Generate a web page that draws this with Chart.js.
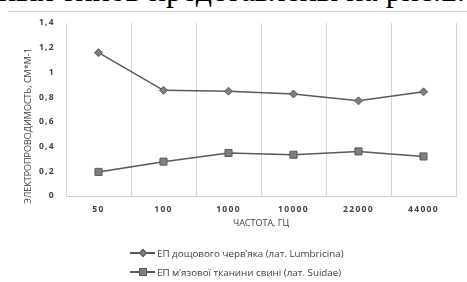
<!DOCTYPE html>
<html>
<head>
<meta charset="utf-8">
<script src="https://cdn.jsdelivr.net/npm/chart.js@4/dist/chart.umd.min.js"></script>
<style>
  html, body { margin: 0; padding: 0; background: #fff; }
  #wrap { position: relative; width: 467px; height: 282px; overflow: hidden; }
  #c { position: absolute; left: 0; top: 0; }
  #toptext { position: absolute; right: 2px; top: -26px; font-family: "Liberation Serif", serif; font-size: 32px; line-height: 33px; color: #000; white-space: nowrap; }
  #rule { position: absolute; left: 8px; right: 0; top: 11px; height: 1px; background: #cfcfcf; }
  .leg { position: absolute; left: 130px; height: 14px; display: flex; align-items: center; font-family: "Open Sans", sans-serif; font-size: 9.8px; color: #404040; white-space: nowrap; }
  .ico { position: relative; width: 25px; height: 14px; margin-right: 2px; }
  .ico .ln { position: absolute; left: 0; right: 0; top: 6px; height: 1.5px; background: #595959; }
  .ico .dm { position: absolute; left: 10px; top: 4px; width: 4px; height: 4px; background: #7f7f7f; border: 0.5px solid #595959; transform: rotate(45deg); }
  .ico .sq { position: absolute; left: 9px; top: 3px; width: 6px; height: 6px; background: #7f7f7f; border: 0.5px solid #595959; }
</style>
</head>
<body>
<div id="wrap">
  <div id="toptext">различных типов представлены на рис.2.</div>
  <div id="rule"></div>
  <canvas id="c" width="467" height="282"></canvas>
  <div class="leg" style="top:246px"><div class="ico"><div class="ln"></div><div class="dm"></div></div><span id="l1"></span></div>
  <div class="leg" style="top:265px"><div class="ico"><div class="ln"></div><div class="sq"></div></div><span id="l2"></span></div>
</div>
<script>
const categories = ['50', '100', '1000', '10000', '22000', '44000'];
const wormValues = [1.16, 0.855, 0.848, 0.825, 0.77, 0.843];
const pigValues = [0.195, 0.278, 0.348, 0.334, 0.361, 0.32];
const seriesNames = ['ЕП дощового черв’яка (лат. Lumbricina)', 'ЕП м’язової тканини свині (лат. Suidae)'];
const yTitle = 'ЭЛЕКТРОПРОВОДИМОСТЬ, СМ*М-1';
const xTitle = 'ЧАСТОТА, ГЦ';

document.getElementById('l1').textContent = seriesNames[0];
document.getElementById('l2').textContent = seriesNames[1];

const spacingPlugin = {
  id: 'spacing',
  beforeDraw(chart) { chart.ctx.letterSpacing = '1.3px'; },
  afterDraw(chart) {
    const ctx = chart.ctx;
    ctx.save();
    ctx.letterSpacing = '0px';
    ctx.fillStyle = '#404040';
    ctx.font = '9px "Open Sans"';
    ctx.textAlign = 'center';
    ctx.textBaseline = 'middle';
    ctx.translate(28, 126);
    ctx.rotate(-Math.PI / 2);
    ctx.fillText(yTitle, 0, 0);
    ctx.restore();
    ctx.save();
    ctx.letterSpacing = '0px';
    ctx.fillStyle = '#404040';
    ctx.font = '9px "Open Sans"';
    ctx.textAlign = 'center';
    ctx.textBaseline = 'middle';
    const ca = chart.chartArea;
    ctx.fillText(xTitle, (ca.left + ca.right) / 2, 223);
    ctx.restore();
  }
};

new Chart(document.getElementById('c'), {
  type: 'line',
  data: {
    labels: categories,
    datasets: [
      { label: seriesNames[0], data: wormValues, borderColor: '#595959', borderWidth: 1.5, pointStyle: 'rectRot', pointRadius: 4, pointBackgroundColor: '#7f7f7f', pointBorderColor: '#595959', pointBorderWidth: 1, tension: 0 },
      { label: seriesNames[1], data: pigValues, borderColor: '#595959', borderWidth: 1.5, pointStyle: 'rect', pointRadius: 5, pointBackgroundColor: '#7f7f7f', pointBorderColor: '#595959', pointBorderWidth: 1, tension: 0 }
    ]
  },
  options: {
    responsive: false,
    animation: false,
    devicePixelRatio: 1,
    layout: { padding: { top: 23, right: 11, bottom: 46, left: 0 } },
    plugins: { legend: { display: false }, tooltip: { enabled: false } },
    scales: {
      x: {
        offset: true,
        grid: { offset: true, color: '#d4d4d4', lineWidth: 1, drawTicks: false },
        border: { color: '#d4d4d4', width: 1 },
        ticks: { padding: 8, color: '#404040', font: { family: 'Open Sans', size: 8.5, weight: 'bold' }, maxRotation: 0 },
        afterFit(s) { s.height = 40; }
      },
      y: {
        min: 0, max: 1.4,
        grid: { display: false, drawTicks: false },
        border: { display: false },
        ticks: { stepSize: 0.2, padding: 11, color: '#404040', font: { family: 'Open Sans', size: 8.5, weight: 'bold' },
          callback: (v) => String(Number(v.toFixed(1))).replace('.', ',') },
        afterFit(s) { s.width = 66; }
      }
    }
  },
  plugins: [spacingPlugin]
});
</script>
</body>
</html>
